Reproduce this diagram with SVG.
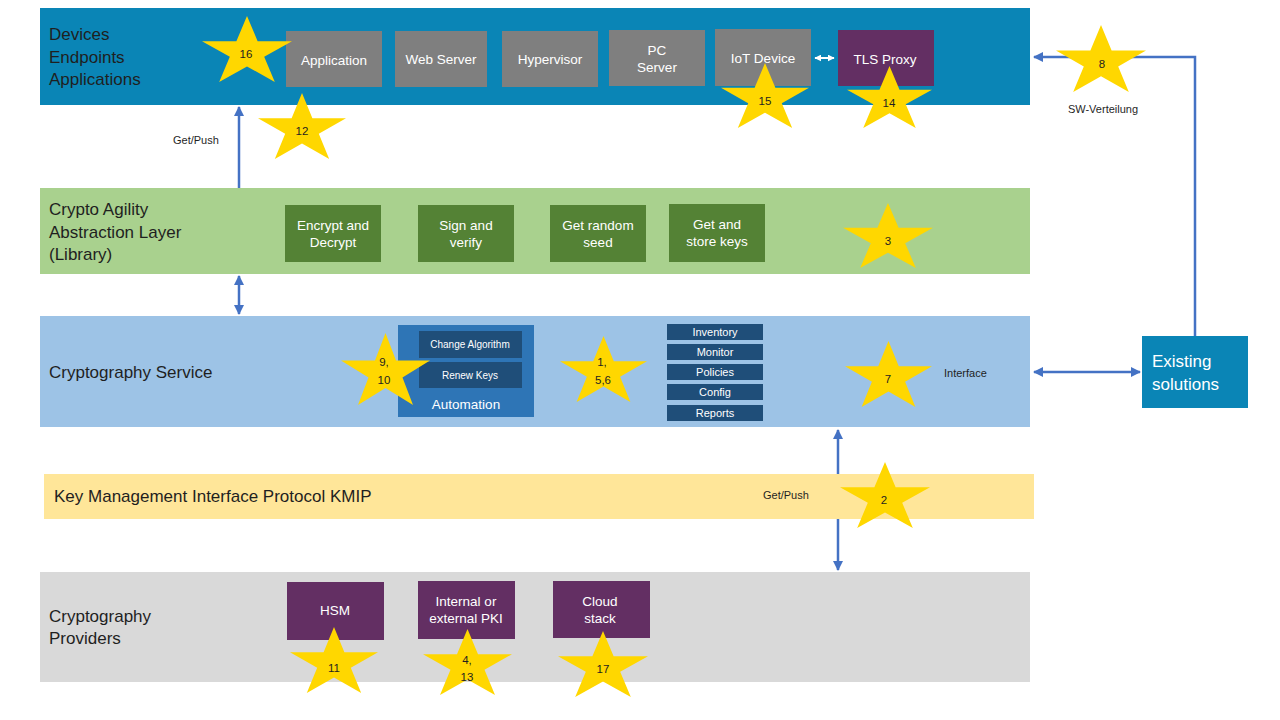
<svg xmlns="http://www.w3.org/2000/svg" xmlns:xlink="http://www.w3.org/1999/xlink" width="1280" height="720" viewBox="0 0 1280 720">
<style>
text{font-family:"Liberation Sans",Arial,sans-serif;}
.band-lbl{font-size:17px;fill:#1f1f1f;}
.box-lbl{font-size:13.5px;fill:#ffffff;text-anchor:middle;}
.sm{font-size:10px;fill:#ffffff;text-anchor:middle;}
.lst{font-size:11px;fill:#ffffff;text-anchor:middle;}
.note{font-size:11px;fill:#1f1f1f;}
.num{font-size:11.5px;fill:#1f1f1f;text-anchor:middle;}
.grey{fill:#7f7f7f;}
.green{fill:#548235;}
.purple{fill:#632f63;}
.navy{fill:#1f4e79;}
.conn{stroke:#4472c4;stroke-width:2.5;fill:none;}
.star{fill:#ffd700;}
</style>
<defs>
<path id="star" d="M50,0 L61.8,38.2 L100,38.2 L69.1,61.8 L80.9,100 L50,76.4 L19.1,100 L30.9,61.8 L0,38.2 L38.2,38.2 Z"/>
<marker id="ah" viewBox="0 0 10 10" refX="9" refY="5" markerWidth="4" markerHeight="4" orient="auto-start-reverse" markerUnits="strokeWidth">
<path d="M0,0 L10,5 L0,10 Z" fill="#4472c4"/>
</marker>
<marker id="ahw" viewBox="0 0 10 10" refX="9" refY="5" markerWidth="3.5" markerHeight="3.5" orient="auto-start-reverse" markerUnits="strokeWidth">
<path d="M0,0 L10,5 L0,10 Z" fill="#ffffff"/>
</marker>
</defs>
<rect width="1280" height="720" fill="#ffffff"/>

<!-- Bands -->
<g id="band-devices">
<rect x="40" y="8" width="990" height="97" fill="#0a85b6"/>
<text class="band-lbl" x="49" y="40">Devices</text>
<text class="band-lbl" x="49" y="63">Endpoints</text>
<text class="band-lbl" x="49" y="85">Applications</text>
</g>
<g id="band-agility">
<rect x="40" y="188" width="990" height="86" fill="#a9d18e"/>
<text class="band-lbl" x="49" y="215">Crypto Agility</text>
<text class="band-lbl" x="49" y="238">Abstraction Layer</text>
<text class="band-lbl" x="49" y="260">(Library)</text>
</g>
<g id="band-service">
<rect x="40" y="316" width="990" height="111" fill="#9dc3e6"/>
<text class="band-lbl" x="49" y="378">Cryptography Service</text>
</g>
<g id="band-providers">
<rect x="40" y="572" width="990" height="110" fill="#d9d9d9"/>
<text class="band-lbl" x="49" y="622">Cryptography</text>
<text class="band-lbl" x="49" y="644">Providers</text>
</g>

<!-- Connectors -->
<g id="connectors">
<path class="conn" d="M1195,336 V57 H1034" marker-end="url(#ah)"/>
<line class="conn" x1="1034" y1="372" x2="1140" y2="372" marker-start="url(#ah)" marker-end="url(#ah)"/>
<line class="conn" x1="239" y1="188" x2="239" y2="107" marker-end="url(#ah)"/>
<line class="conn" x1="239" y1="276" x2="239" y2="314" marker-start="url(#ah)" marker-end="url(#ah)"/>
<line class="conn" x1="838" y1="430" x2="838" y2="570" marker-start="url(#ah)" marker-end="url(#ah)"/>
<line x1="815" y1="58" x2="834" y2="58" stroke="#ffffff" stroke-width="2" marker-start="url(#ahw)" marker-end="url(#ahw)"/>
<text class="note" x="173" y="144">Get/Push</text>
<text class="note" x="1103" y="113" text-anchor="middle">SW-Verteilung</text>
<text class="note" x="944" y="377">Interface</text>
</g>

<g id="band-kmip">
<rect x="44" y="474" width="990" height="45" fill="#ffe699"/>
<text class="band-lbl" x="54" y="502">Key Management Interface Protocol KMIP</text>
<text class="note" x="763" y="499">Get/Push</text>
</g>

<!-- Device nodes -->
<g id="n-application"><rect class="grey" x="286" y="31" width="96" height="56"/><text class="box-lbl" x="334" y="65">Application</text></g>
<g id="n-webserver"><rect class="grey" x="395" y="31" width="92" height="56"/><text class="box-lbl" x="441" y="64">Web Server</text></g>
<g id="n-hypervisor"><rect class="grey" x="502" y="31" width="96" height="56"/><text class="box-lbl" x="550" y="64">Hypervisor</text></g>
<g id="n-pcserver"><rect class="grey" x="609" y="30" width="96" height="56"/><text class="box-lbl" x="657" y="55">PC</text><text class="box-lbl" x="657" y="72">Server</text></g>
<g id="n-iot"><rect class="grey" x="715" y="29" width="96" height="57"/><text class="box-lbl" x="763" y="63">IoT Device</text></g>
<g id="n-tls"><rect class="purple" x="838" y="30" width="96" height="56"/><text class="box-lbl" x="885" y="64">TLS Proxy</text></g>

<!-- Agility nodes -->
<g id="n-encrypt"><rect class="green" x="285" y="205" width="96" height="57"/><text class="box-lbl" x="333" y="230">Encrypt and</text><text class="box-lbl" x="333" y="247">Decrypt</text></g>
<g id="n-sign"><rect class="green" x="418" y="205" width="96" height="57"/><text class="box-lbl" x="466" y="230">Sign and</text><text class="box-lbl" x="466" y="247">verify</text></g>
<g id="n-random"><rect class="green" x="550" y="205" width="96" height="57"/><text class="box-lbl" x="598" y="230">Get random</text><text class="box-lbl" x="598" y="247">seed</text></g>
<g id="n-keys"><rect class="green" x="669" y="204" width="96" height="58"/><text class="box-lbl" x="717" y="229">Get and</text><text class="box-lbl" x="717" y="246">store keys</text></g>

<!-- Service nodes -->
<g id="n-automation">
<rect x="398" y="325" width="136" height="92" fill="#2e75b6"/>
<rect class="navy" x="419" y="331" width="103" height="27"/>
<text class="sm" x="470" y="348">Change Algorithm</text>
<rect class="navy" x="419" y="362" width="103" height="26"/>
<text class="sm" x="470" y="379">Renew Keys</text>
<text class="box-lbl" x="466" y="409">Automation</text>
</g>
<g id="n-inventory"><rect class="navy" x="667" y="324" width="96" height="16"/><text class="lst" x="715" y="336">Inventory</text></g>
<g id="n-monitor"><rect class="navy" x="667" y="344" width="96" height="16"/><text class="lst" x="715" y="356">Monitor</text></g>
<g id="n-policies"><rect class="navy" x="667" y="364" width="96" height="16"/><text class="lst" x="715" y="376">Policies</text></g>
<g id="n-config"><rect class="navy" x="667" y="384" width="96" height="16"/><text class="lst" x="715" y="396">Config</text></g>
<g id="n-reports"><rect class="navy" x="667" y="405" width="96" height="16"/><text class="lst" x="715" y="417">Reports</text></g>

<!-- Existing solutions -->
<g id="n-existing">
<rect x="1142" y="336" width="106" height="72" fill="#0a85b6"/>
<text x="1152" y="367" font-size="17" fill="#ffffff">Existing</text>
<text x="1152" y="390" font-size="17" fill="#ffffff">solutions</text>
</g>

<!-- Provider nodes -->
<g id="n-hsm"><rect class="purple" x="287" y="582" width="97" height="58"/><text class="box-lbl" x="335" y="615">HSM</text></g>
<g id="n-pki"><rect class="purple" x="418" y="581" width="97" height="58"/><text class="box-lbl" x="466" y="606">Internal or</text><text class="box-lbl" x="466" y="623">external PKI</text></g>
<g id="n-cloud"><rect class="purple" x="553" y="581" width="97" height="57"/><text class="box-lbl" x="600" y="606">Cloud</text><text class="box-lbl" x="600" y="623">stack</text></g>

<!-- Stars -->
<g id="star-16"><use href="#star" class="star" transform="translate(202,16) scale(0.9,0.66)"/><text class="num" x="246" y="58">16</text></g>
<g id="star-12"><use href="#star" class="star" transform="translate(258,93) scale(0.88,0.66)"/><text class="num" x="302" y="135">12</text></g>
<g id="star-15"><use href="#star" class="star" transform="translate(721,63) scale(0.88,0.65)"/><text class="num" x="765" y="105">15</text></g>
<g id="star-14"><use href="#star" class="star" transform="translate(847,66) scale(0.85,0.62)"/><text class="num" x="889" y="107">14</text></g>
<g id="star-8"><use href="#star" class="star" transform="translate(1056,25) scale(0.9,0.67)"/><text class="num" x="1102" y="68">8</text></g>
<g id="star-3"><use href="#star" class="star" transform="translate(843,203) scale(0.9,0.65)"/><text class="num" x="888" y="245">3</text></g>
<g id="star-9-10"><use href="#star" class="star" transform="translate(341,333) scale(0.89,0.72)"/><text class="num" x="384" y="366">9,</text><text class="num" x="384" y="384">10</text></g>
<g id="star-1-5-6"><use href="#star" class="star" transform="translate(560,336) scale(0.87,0.66)"/><text class="num" x="602" y="366">1,</text><text class="num" x="603" y="384">5,6</text></g>
<g id="star-7"><use href="#star" class="star" transform="translate(845,341) scale(0.87,0.66)"/><text class="num" x="888" y="383">7</text></g>
<g id="star-2"><use href="#star" class="star" transform="translate(840,462) scale(0.9,0.66)"/><text class="num" x="884" y="504">2</text></g>
<g id="star-11"><use href="#star" class="star" transform="translate(290,627) scale(0.88,0.66)"/><text class="num" x="334" y="672">11</text></g>
<g id="star-4-13"><use href="#star" class="star" transform="translate(423,629) scale(0.89,0.66)"/><text class="num" x="467" y="664">4,</text><text class="num" x="467" y="681">13</text></g>
<g id="star-17"><use href="#star" class="star" transform="translate(558,631) scale(0.9,0.66)"/><text class="num" x="603" y="673">17</text></g>
</svg>
